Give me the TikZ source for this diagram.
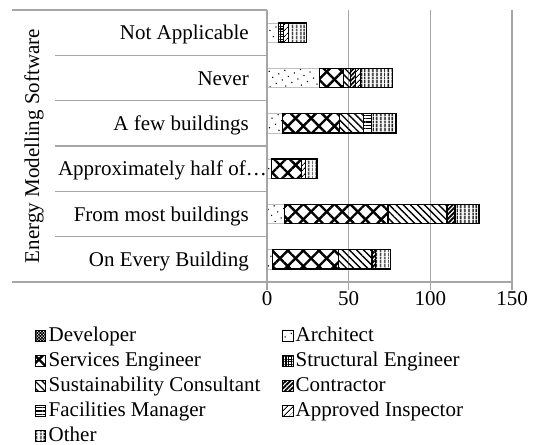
\documentclass[tikz,border=0pt]{standalone}
\usepackage{fontspec}
\setmainfont{Liberation Serif}
\usetikzlibrary{patterns.meta}
\newcommand\hbarseg[4]{\path[#4] ({267+1.6333*(#2)},{#1-9.7}) rectangle ({267+1.6333*(#3)},{#1+9.7});}
\begin{document}
\begin{tikzpicture}[x=1pt,y=-1pt,
  lbl/.style={font=\fontsize{21}{25}\selectfont, inner sep=0pt},
  gridl/.style={draw=gray!70, line width=1.3pt},
  seg/.style={draw=black, line width=1.1pt},
  devf/.style={seg, pattern={Hatch[angle=45,distance=2.2pt,line width=0.9pt]}},
  archf/.style={draw=gray!50, line width=0.6pt, pattern={Dots[distance=7pt,radius=0.8pt,angle=30]}},
  servf/.style={seg, preaction={pattern={Lines[angle=45,distance=11pt,line width=2.4pt]}},
                pattern={Lines[angle=-45,distance=11pt,line width=2.4pt]}},
  structf/.style={seg, pattern={Hatch[distance=2.6pt,line width=1.1pt]}},
  sustf/.style={seg, pattern={Lines[angle=-45,distance=5pt,line width=1.4pt]}},
  contrf/.style={seg, pattern={Lines[angle=45,distance=3.2pt,line width=1.8pt]}},
  facf/.style={seg, pattern={Lines[angle=0,distance=3.4pt,line width=1.2pt]}},
  apprf/.style={seg, pattern={Lines[angle=45,distance=4pt,line width=0.8pt]}},
  otherf/.style={seg, pattern={Lines[angle=90,distance=4pt,line width=1.6pt]}},
  legicon/.style={minimum width=10.5pt, minimum height=10.5pt, inner sep=0pt, line width=0.8pt}
]
\useasboundingbox (0,0) rectangle (539,445);

% frame and grid
\draw[gridl] (12,10) -- (267,10);
\draw[gridl] (12,282) -- (512,282);
\foreach \yy in {55.33,100.67,146,191.33,236.67} \draw[gridl] (55,\yy) -- (267,\yy);
\foreach \xx in {348.67,430.33,512} \draw[gridl] (\xx,10) -- (\xx,290);

% bars
% Not Applicable
\hbarseg{32.67}{0}{7}{archf}
\hbarseg{32.67}{7}{10}{structf}
\hbarseg{32.67}{10}{13}{apprf}
\hbarseg{32.67}{13}{24}{otherf}
% Never
\hbarseg{78}{0}{32}{archf}
\hbarseg{78}{32}{47}{servf}
\hbarseg{78}{47}{51}{sustf}
\hbarseg{78}{51}{54}{contrf}
\hbarseg{78}{54}{57}{apprf}
\hbarseg{78}{57}{77}{otherf}
% A few buildings
\hbarseg{123.33}{0}{9.5}{archf}
\hbarseg{123.33}{9.5}{44.2}{servf}
\hbarseg{123.33}{44.2}{59.2}{sustf}
\hbarseg{123.33}{59.2}{63.8}{facf}
\hbarseg{123.33}{63.8}{79}{otherf}
% Approximately half of
\hbarseg{168.67}{0}{2.6}{archf}
\hbarseg{168.67}{2.6}{21}{servf}
\hbarseg{168.67}{21}{23.5}{apprf}
\hbarseg{168.67}{23.5}{30.6}{otherf}
% From most buildings
\hbarseg{214}{0}{10.8}{archf}
\hbarseg{214}{10.8}{74.1}{servf}
\hbarseg{214}{74.1}{110.2}{sustf}
\hbarseg{214}{110.2}{115.1}{contrf}
\hbarseg{214}{115.1}{129.8}{otherf}
% On Every Building
\hbarseg{259.33}{0}{3.1}{archf}
\hbarseg{259.33}{3.1}{43.9}{servf}
\hbarseg{259.33}{43.9}{64.3}{sustf}
\hbarseg{259.33}{64.3}{66.7}{contrf}
\hbarseg{259.33}{66.7}{75.5}{otherf}

% value axis
\draw[gridl] (267,10) -- (267,290);

% tick labels
\node[lbl, anchor=base] (t0) at (267,305.5) {0};
\node[lbl, anchor=base] (t50) at (348.67,305.5) {50};
\node[lbl, anchor=base] (t100) at (430.33,305.5) {100};
\node[lbl, anchor=base] (t150) at (512,305.5) {150};

% category labels
\node[lbl, anchor=base east] (c1) at (249,39.9) {Not Applicable};
\node[lbl, anchor=base east] (c2) at (249,85.2) {Never};
\node[lbl, anchor=base east] (c3) at (249,130.5) {A few buildings};
\node[lbl, anchor=base east] (c4) at (267,175.9) {Approximately half of…};
\node[lbl, anchor=base east] (c5) at (249,221.2) {From most buildings};
\node[lbl, anchor=base east] (c6) at (249,266.5) {On Every Building};

\node[lbl, rotate=90] (ylab) at (34,146) {Energy Modelling Software};

% legend
\node[legicon, devf] (l1) at (40.5,336) {};
\node[lbl, anchor=base west] (lt1) at (48.5,341.2) {Developer};
\node[legicon, archf, draw=black] (l2) at (288,336) {};
\node[lbl, anchor=base west] (lt2) at (295.5,341.2) {Architect};
\node[legicon, servf] (l3) at (40.5,361) {};
\node[lbl, anchor=base west] (lt3) at (48.5,366.2) {Services Engineer};
\node[legicon, structf] (l4) at (288,361) {};
\node[lbl, anchor=base west] (lt4) at (295.5,366.2) {Structural Engineer};
\node[legicon, sustf] (l5) at (40.5,386) {};
\node[lbl, anchor=base west] (lt5) at (48.5,391.2) {Sustainability Consultant};
\node[legicon, contrf] (l6) at (288,386) {};
\node[lbl, anchor=base west] (lt6) at (295.5,391.2) {Contractor};
\node[legicon, facf] (l7) at (40.5,411) {};
\node[lbl, anchor=base west] (lt7) at (48.5,416.2) {Facilities Manager};
\node[legicon, apprf] (l8) at (288,411) {};
\node[lbl, anchor=base west] (lt8) at (295.5,416.2) {Approved Inspector};
\node[legicon, otherf] (l9) at (40.5,436) {};
\node[lbl, anchor=base west] (lt9) at (48.5,441.2) {Other};
\end{tikzpicture}
\end{document}
